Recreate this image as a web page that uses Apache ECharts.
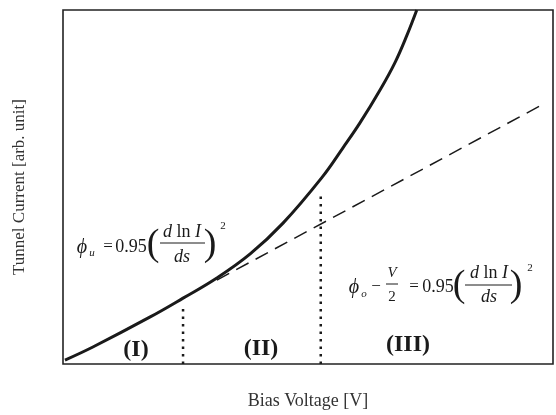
<!DOCTYPE html>
<html>
<head>
<meta charset="utf-8">
<script src="https://cdn.jsdelivr.net/npm/echarts@6/dist/echarts.min.js"></script>
<style>
  html, body { margin: 0; padding: 0; background: #fff; }
  #chart { width: 556px; height: 415px; }
</style>
</head>
<body>
<div id="chart"></div>
<script>
// tunnel current curve (arbitrary units, 0..100 both axes)
var curveX = [0.4, 6.1, 17.8, 24.5, 31.4, 38.2, 44.9, 52.9, 57.1, 60.6, 64.7, 67.8, 70.2, 72.2];
var curveY = [1.1, 4.8, 13.3, 18.6, 24.3, 31.1, 39.8, 52.8, 61.0, 68.1, 77.4, 85.3, 92.9, 100];

// dashed tangent line
var tangentX = [31.4, 98.4];
var tangentY = [23.7, 73.7];

// dotted region boundaries
var boundX = [24.5, 52.6];
var boundTop = [15.8, 47.7];

var regionNames = ['(I)', '(II)', '(III)'];

var SERIF = '"Liberation Serif", "DejaVu Serif", serif';
var INK = '#1a1a1a';

function pairs(xs, ys) {
    return xs.map(function(x, i) { return [x, ys[i]]; });
}

// small helper for annotation text
function txt(x, y, s, size, extra) {
    var st = {
        text: s, x: x, y: y,
        fontFamily: SERIF, fontSize: size, fill: INK,
        align: 'center', verticalAlign: 'middle'
    };
    for (var k in extra) st[k] = extra[k];
    return { type: 'text', style: st };
}

function bar(x1, x2, y) {
    return { type: 'line', shape: { x1: x1, y1: y, x2: x2, y2: y }, style: { stroke: INK, lineWidth: 1 } };
}

var richD = {
    rich: {
        i: { fontFamily: SERIF, fontStyle: 'italic', fontSize: 18, fill: INK },
        n: { fontFamily: SERIF, fontSize: 18, fill: INK }
    }
};

var annotations = [
    // phi_u = 0.95 (d ln I / ds)^2
    txt(82, 248, '\u03d5', 20, { fontStyle: 'italic' }),
    txt(92, 253, 'u', 11, { fontStyle: 'italic' }),
    txt(108, 247, '=', 17),
    txt(131, 247, '0.95', 18),
    txt(153, 245, '(', 38),
    txt(182, 232, '{i|d} {n|ln} {i|I}', 18, richD),
    bar(160, 205, 243),
    txt(182, 257, 'ds', 18, { fontStyle: 'italic' }),
    txt(210, 245, ')', 38),
    txt(223, 226, '2', 11),

    // phi_0 - V/2 = 0.95 (d ln I / ds)^2
    txt(354, 288, '\u03d5', 20, { fontStyle: 'italic' }),
    txt(364, 294, 'o', 11, { fontStyle: 'italic' }),
    txt(376, 287, '\u2212', 17),
    txt(392, 273, 'V', 15, { fontStyle: 'italic' }),
    bar(386, 398, 284),
    txt(392, 297, '2', 15),
    txt(414, 287, '=', 17),
    txt(438, 287, '0.95', 18),
    txt(459, 286, '(', 38),
    txt(489, 273, '{i|d} {n|ln} {i|I}', 18, richD),
    bar(465, 512, 285),
    txt(489, 297, 'ds', 18, { fontStyle: 'italic' }),
    txt(516, 286, ')', 38),
    txt(530, 268, '2', 11),

    // region labels
    txt(136, 350, regionNames[0], 24, { fontWeight: 'bold' }),
    txt(261, 349, regionNames[1], 24, { fontWeight: 'bold' }),
    txt(408, 345, regionNames[2], 24, { fontWeight: 'bold' })
];

var chart = echarts.init(document.getElementById('chart'));

var option = {
    backgroundColor: '#fff',
    animation: false,
    grid: {
        left: 63, right: 3, top: 10, bottom: 51,
        show: true, borderColor: '#222', borderWidth: 1.6
    },
    xAxis: {
        type: 'value', min: 0, max: 100,
        name: 'Bias Voltage [V]', nameLocation: 'middle', nameGap: 28,
        nameTextStyle: { fontFamily: SERIF, fontSize: 18, color: '#333' },
        axisLine: { show: false }, axisTick: { show: false },
        axisLabel: { show: false }, splitLine: { show: false }
    },
    yAxis: {
        type: 'value', min: 0, max: 100,
        name: 'Tunnel Current [arb. unit]', nameLocation: 'middle', nameGap: 35,
        nameTextStyle: { fontFamily: SERIF, fontSize: 17, color: '#333' },
        axisLine: { show: false }, axisTick: { show: false },
        axisLabel: { show: false }, splitLine: { show: false }
    },
    series: [
        {
            type: 'line', data: pairs(curveX, curveY), smooth: 0.4,
            showSymbol: false, lineStyle: { color: INK, width: 3 }
        },
        {
            type: 'line', data: pairs(tangentX, tangentY),
            showSymbol: false, lineStyle: { color: INK, width: 1.5, type: [14, 8] }
        },
        {
            type: 'line', data: [[boundX[0], 0], [boundX[0], boundTop[0]]],
            showSymbol: false, lineStyle: { color: INK, width: 2.5, type: [2.5, 5] }
        },
        {
            type: 'line', data: [[boundX[1], 0], [boundX[1], boundTop[1]]],
            showSymbol: false, lineStyle: { color: INK, width: 2.5, type: [2.5, 5] }
        }
    ],
    graphic: annotations
};

chart.setOption(option);
</script>
</body>
</html>
